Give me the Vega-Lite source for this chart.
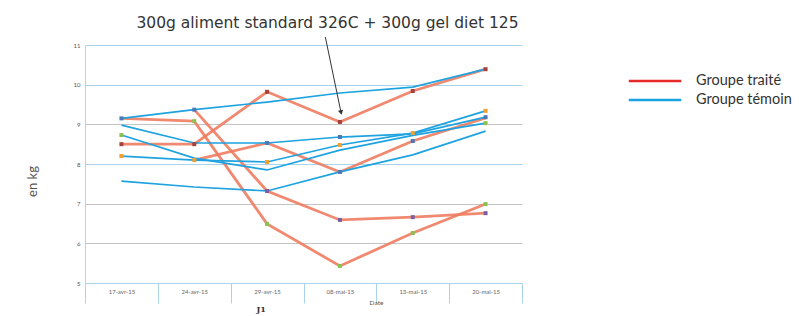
{
  "$schema": "https://vega.github.io/schema/vega-lite/v6.json",
  "autosize": {"type": "none"},
  "width": 437,
  "height": 238,
  "padding": {"left": 85, "top": 45, "right": 277, "bottom": 33},
  "background": "white",
  "config": {"view": {"stroke": null}, "font": "Lato"},
  "title": {
    "text": "300g aliment standard 326C + 300g gel diet 125",
    "anchor": "middle",
    "frame": "group",
    "dx": 24,
    "dy": 20,
    "offset": 12,
    "baseline": "alphabetic",
    "font": "DejaVu Sans",
    "fontSize": 15.5,
    "fontWeight": "normal",
    "color": "#333333"
  },
  "datasets": {
    "lines": [
      {"g": "Groupe traité", "id": "R1", "d": "17-avr-15", "v": 8.5},
      {"g": "Groupe traité", "id": "R1", "d": "24-avr-15", "v": 8.5},
      {"g": "Groupe traité", "id": "R1", "d": "29-avr-15", "v": 9.82},
      {"g": "Groupe traité", "id": "R1", "d": "08-mai-15", "v": 9.06},
      {"g": "Groupe traité", "id": "R1", "d": "13-mai-15", "v": 9.84},
      {"g": "Groupe traité", "id": "R1", "d": "20-mai-15", "v": 10.39},
      {"g": "Groupe traité", "id": "R2", "d": "17-avr-15", "v": 9.15},
      {"g": "Groupe traité", "id": "R2", "d": "24-avr-15", "v": 9.08},
      {"g": "Groupe traité", "id": "R2", "d": "29-avr-15", "v": 6.49},
      {"g": "Groupe traité", "id": "R2", "d": "08-mai-15", "v": 5.43},
      {"g": "Groupe traité", "id": "R2", "d": "13-mai-15", "v": 6.26},
      {"g": "Groupe traité", "id": "R2", "d": "20-mai-15", "v": 6.99},
      {"g": "Groupe traité", "id": "R3", "d": "24-avr-15", "v": 9.37},
      {"g": "Groupe traité", "id": "R3", "d": "29-avr-15", "v": 7.32},
      {"g": "Groupe traité", "id": "R3", "d": "08-mai-15", "v": 6.59},
      {"g": "Groupe traité", "id": "R3", "d": "13-mai-15", "v": 6.66},
      {"g": "Groupe traité", "id": "R3", "d": "20-mai-15", "v": 6.76},
      {"g": "Groupe traité", "id": "R4", "d": "24-avr-15", "v": 8.1},
      {"g": "Groupe traité", "id": "R4", "d": "29-avr-15", "v": 8.53},
      {"g": "Groupe traité", "id": "R4", "d": "08-mai-15", "v": 7.8},
      {"g": "Groupe traité", "id": "R4", "d": "13-mai-15", "v": 8.58},
      {"g": "Groupe traité", "id": "R4", "d": "20-mai-15", "v": 9.16},
      {"g": "Groupe témoin", "id": "B1", "d": "17-avr-15", "v": 9.15},
      {"g": "Groupe témoin", "id": "B1", "d": "24-avr-15", "v": 9.37},
      {"g": "Groupe témoin", "id": "B1", "d": "29-avr-15", "v": 9.56},
      {"g": "Groupe témoin", "id": "B1", "d": "08-mai-15", "v": 9.79},
      {"g": "Groupe témoin", "id": "B1", "d": "13-mai-15", "v": 9.94},
      {"g": "Groupe témoin", "id": "B1", "d": "20-mai-15", "v": 10.39},
      {"g": "Groupe témoin", "id": "B2", "d": "17-avr-15", "v": 8.98},
      {"g": "Groupe témoin", "id": "B2", "d": "24-avr-15", "v": 8.53},
      {"g": "Groupe témoin", "id": "B2", "d": "29-avr-15", "v": 8.53},
      {"g": "Groupe témoin", "id": "B2", "d": "08-mai-15", "v": 8.68},
      {"g": "Groupe témoin", "id": "B2", "d": "13-mai-15", "v": 8.76},
      {"g": "Groupe témoin", "id": "B2", "d": "20-mai-15", "v": 9.18},
      {"g": "Groupe témoin", "id": "B3", "d": "17-avr-15", "v": 8.73},
      {"g": "Groupe témoin", "id": "B3", "d": "24-avr-15", "v": 8.15},
      {"g": "Groupe témoin", "id": "B3", "d": "29-avr-15", "v": 7.85},
      {"g": "Groupe témoin", "id": "B3", "d": "08-mai-15", "v": 8.35},
      {"g": "Groupe témoin", "id": "B3", "d": "13-mai-15", "v": 8.72},
      {"g": "Groupe témoin", "id": "B3", "d": "20-mai-15", "v": 9.03},
      {"g": "Groupe témoin", "id": "B4", "d": "17-avr-15", "v": 8.2},
      {"g": "Groupe témoin", "id": "B4", "d": "24-avr-15", "v": 8.1},
      {"g": "Groupe témoin", "id": "B4", "d": "29-avr-15", "v": 8.05},
      {"g": "Groupe témoin", "id": "B4", "d": "08-mai-15", "v": 8.48},
      {"g": "Groupe témoin", "id": "B4", "d": "13-mai-15", "v": 8.78},
      {"g": "Groupe témoin", "id": "B4", "d": "20-mai-15", "v": 9.34},
      {"g": "Groupe témoin", "id": "B5", "d": "17-avr-15", "v": 7.57},
      {"g": "Groupe témoin", "id": "B5", "d": "24-avr-15", "v": 7.42},
      {"g": "Groupe témoin", "id": "B5", "d": "29-avr-15", "v": 7.32},
      {"g": "Groupe témoin", "id": "B5", "d": "08-mai-15", "v": 7.8},
      {"g": "Groupe témoin", "id": "B5", "d": "13-mai-15", "v": 8.23},
      {"g": "Groupe témoin", "id": "B5", "d": "20-mai-15", "v": 8.83}
    ],
    "markers": [
      {"s": "Série 2", "d": "17-avr-15", "v": 8.5},
      {"s": "Série 2", "d": "24-avr-15", "v": 8.5},
      {"s": "Série 2", "d": "29-avr-15", "v": 9.82},
      {"s": "Série 2", "d": "08-mai-15", "v": 9.06},
      {"s": "Série 2", "d": "13-mai-15", "v": 9.84},
      {"s": "Série 2", "d": "20-mai-15", "v": 10.39},
      {"s": "Série 3", "d": "17-avr-15", "v": 8.73},
      {"s": "Série 3", "d": "24-avr-15", "v": 9.08},
      {"s": "Série 3", "d": "29-avr-15", "v": 6.49},
      {"s": "Série 3", "d": "08-mai-15", "v": 5.43},
      {"s": "Série 3", "d": "13-mai-15", "v": 6.26},
      {"s": "Série 3", "d": "20-mai-15", "v": 6.99},
      {"s": "Série 3", "d": "20-mai-15", "v": 9.03},
      {"s": "Série 5", "d": "17-avr-15", "v": 8.2},
      {"s": "Série 5", "d": "24-avr-15", "v": 8.1},
      {"s": "Série 5", "d": "29-avr-15", "v": 8.05},
      {"s": "Série 5", "d": "08-mai-15", "v": 8.48},
      {"s": "Série 5", "d": "13-mai-15", "v": 8.78},
      {"s": "Série 5", "d": "20-mai-15", "v": 9.34},
      {"s": "Série 1", "d": "17-avr-15", "v": 9.15},
      {"s": "Série 1", "d": "24-avr-15", "v": 9.37},
      {"s": "Série 1", "d": "29-avr-15", "v": 8.53},
      {"s": "Série 1", "d": "08-mai-15", "v": 7.8},
      {"s": "Série 1", "d": "08-mai-15", "v": 8.68},
      {"s": "Série 1", "d": "13-mai-15", "v": 8.58},
      {"s": "Série 1", "d": "20-mai-15", "v": 9.18},
      {"s": "Série 4", "d": "29-avr-15", "v": 7.32},
      {"s": "Série 4", "d": "08-mai-15", "v": 6.59},
      {"s": "Série 4", "d": "13-mai-15", "v": 6.66},
      {"s": "Série 4", "d": "20-mai-15", "v": 6.76}
    ],
    "notes": [
      {"d": "29-avr-15", "v": 4.32, "t": "J1"}
    ],
    "arrow": [
      {"d": "08-mai-15", "o": 0.3, "v": 11.2},
      {"d": "08-mai-15", "o": 0.515, "v": 9.3}
    ],
    "arrowhead": [
      {"d": "08-mai-15", "o": 0.515, "v": 9.3}
    ]
  },
  "encoding": {
    "x": {
      "field": "d",
      "type": "ordinal",
      "scale": {
        "domain": ["17-avr-15", "24-avr-15", "29-avr-15", "08-mai-15", "13-mai-15", "20-mai-15"],
        "type": "band",
        "paddingInner": 0,
        "paddingOuter": 0
      },
      "axis": {
        "title": "Date",
        "titleX": 291,
        "titleY": 19,
        "titleAlign": "center",
        "titleBaseline": "middle",
        "titleFontSize": 6.5,
        "titleFontWeight": "normal",
        "titleColor": "#555555",
        "labelAngle": 0,
        "labelFontSize": 6,
        "labelColor": "#666666",
        "labelBaseline": "middle",
        "labelPadding": -12,
        "tickBand": "extent",
        "tickSize": 20,
        "tickColor": "#a9d3ea",
        "domainColor": "#a9d3ea",
        "grid": false
      }
    },
    "y": {
      "field": "v",
      "type": "quantitative",
      "scale": {"domain": [5, 11], "nice": false, "zero": false},
      "axis": {
        "title": "en kg",
        "titleX": -53,
        "titleY": 136,
        "titleAngle": -90,
        "titleAlign": "center",
        "titleBaseline": "middle",
        "titleFont": "Lato",
        "titleFontSize": 13,
        "titleFontWeight": "normal",
        "titleColor": "#555555",
        "values": [5, 6, 7, 8, 9, 10, 11],
        "tickCount": 7,
        "labelOverlap": false,
        "labelFontSize": 6,
        "labelColor": "#555555",
        "labelPadding": 5,
        "ticks": false,
        "domainColor": "#cccccc",
        "grid": true,
        "gridWidth": 1,
        "gridColor": {
          "condition": {"test": "datum.value == 9 || datum.value == 7 || datum.value == 6", "value": "#c4c4c4"},
          "value": "#a9d3ea"
        }
      }
    }
  },
  "layer": [
    {
      "data": {"name": "lines"},
      "mark": {"type": "line", "strokeWidth": 2.5, "opacity": 0},
      "encoding": {
        "detail": {"field": "id"},
        "stroke": {
          "field": "g",
          "type": "nominal",
          "scale": {"domain": ["Groupe traité", "Groupe témoin"], "range": ["#e8282b", "#1aa3e1"]},
          "legend": {
            "orient": "none",
            "legendX": 558,
            "legendY": 24,
            "title": null,
            "symbolType": "M-2.5,0H2.5",
            "symbolSize": 441,
            "symbolStrokeWidth": 2.5,
            "symbolOpacity": 1,
            "labelOffset": 29,
            "labelFontSize": 14.5,
            "labelFont": "Lato",
            "labelColor": "#333333",
            "labelLimit": 0,
            "rowPadding": 0,
            "padding": 0
          }
        }
      }
    },
    {
      "data": {"name": "lines"},
      "transform": [{"filter": "datum.g == 'Groupe traité'"}],
      "mark": {"type": "line", "strokeWidth": 2.8, "opacity": 0.9},
      "encoding": {
        "detail": {"field": "id"},
        "color": {
          "field": "g",
          "type": "nominal",
          "scale": {"domain": ["Groupe traité", "Groupe témoin"], "range": ["#ee7c60", "#1ea3e0"]},
          "legend": null
        }
      }
    },
    {
      "data": {"name": "lines"},
      "transform": [{"filter": "datum.g == 'Groupe témoin'"}],
      "mark": {"type": "line", "strokeWidth": 1.7},
      "encoding": {
        "detail": {"field": "id"},
        "color": {"field": "g", "type": "nominal", "legend": null}
      }
    },
    {
      "data": {"name": "markers"},
      "mark": {"type": "point", "shape": "square", "filled": true, "size": 16, "opacity": 1},
      "encoding": {
        "fill": {
          "field": "s",
          "type": "nominal",
          "scale": {
            "domain": ["Série 1", "Série 2", "Série 3", "Série 4", "Série 5"],
            "range": ["#4a78b8", "#a5413c", "#8cc152", "#7c5fa0", "#f0a030"]
          },
          "legend": null
        }
      }
    },
    {
      "data": {"name": "notes"},
      "mark": {"type": "text", "fontSize": 8, "fontWeight": "bold", "color": "#333333", "dx": -6, "font": "DejaVu Serif"},
      "encoding": {"text": {"field": "t"}}
    },
    {
      "data": {"name": "arrow"},
      "mark": {"type": "line", "color": "#333333", "strokeWidth": 1},
      "encoding": {
        "xOffset": {"field": "o", "type": "quantitative", "scale": {"domain": [0, 1], "nice": false, "zero": false}}
      }
    },
    {
      "data": {"name": "arrowhead"},
      "mark": {"type": "point", "shape": "triangle-down", "filled": true, "size": 28, "color": "#333333", "angle": -12, "opacity": 1},
      "encoding": {
        "xOffset": {"field": "o", "type": "quantitative", "scale": {"domain": [0, 1], "nice": false, "zero": false}}
      }
    }
  ]
}
